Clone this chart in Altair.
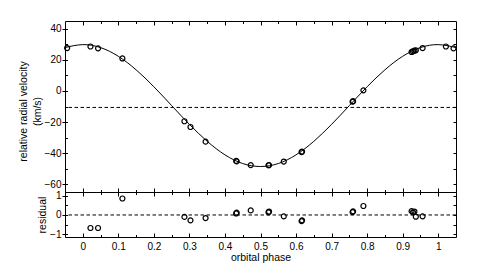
import altair as alt
import pandas as pd

# ---- data ----
phase = [0.0216, 0.0430, 0.1115, 0.2860, 0.3030, 0.3455, 0.4315, 0.4330, 0.4725,
         0.5225, 0.5240, 0.5655, 0.6155, 0.6170, 0.7590, 0.7605, 0.7895,
         0.9250, 0.9290, 0.9330, 0.9370, 0.9560]
velocity = [28.6, 27.4, 20.9, -19.5, -23.2, -32.6, -45.0, -45.3, -47.7,
            -47.8, -47.7, -45.4, -39.3, -39.0, -6.9, -6.6, 0.4,
            25.1, 25.5, 25.9, 26.2, 27.6]
residual = [-0.68, -0.68, 0.86, -0.10, -0.28, -0.16, 0.08, 0.12, 0.24,
            0.14, 0.18, -0.07, -0.32, -0.28, 0.15, 0.19, 0.47,
            0.20, 0.14, 0.18, -0.09, -0.07]

model_phase = [-0.05, 0.00, 0.05, 0.10, 0.15, 0.20, 0.25, 0.30, 0.35, 0.40, 0.45, 0.50,
               0.55, 0.60, 0.65, 0.70, 0.75, 0.80, 0.85, 0.90, 0.95, 1.00, 1.05]
model_velocity = [27.9, 29.8, 27.9, 22.3, 13.6, 2.7, -9.4, -21.5, -32.4, -41.1, -46.7, -48.6,
                  -46.7, -41.1, -32.4, -21.5, -9.4, 2.7, 13.6, 22.3, 27.9, 29.8, 27.9]
gamma = [-10.6]
zero = [0.0]

x_label_values = [0, 0.1, 0.2, 0.3, 0.4, 0.5, 0.6, 0.7, 0.8, 0.9, 1]
x_tick_values = [0, 0.05, 0.1, 0.15, 0.2, 0.25, 0.3, 0.35, 0.4, 0.45, 0.5,
                 0.55, 0.6, 0.65, 0.7, 0.75, 0.8, 0.85, 0.9, 0.95, 1.0]
v_label_values = [-60, -40, -20, 0, 20, 40]
v_tick_values = [-60, -50, -40, -30, -20, -10, 0, 10, 20, 30, 40]
r_label_values = [-1, 0, 1]
r_tick_values = [-1, -0.5, 0, 0.5, 1]

# ---- tables ----
obs = pd.DataFrame({"phase": phase, "velocity": velocity, "residual": residual})
wrap_hi = obs[obs.phase < 0.05].assign(phase=lambda d: d.phase + 1)
wrap_lo = obs[obs.phase > 0.95].assign(phase=lambda d: d.phase - 1)
obs_top = pd.concat([wrap_lo, obs, wrap_hi], ignore_index=True)
model = pd.DataFrame({"phase": model_phase, "velocity": model_velocity})
gamma_df = pd.DataFrame({"velocity": gamma})
zero_df = pd.DataFrame({"residual": zero})

W, HT, HB = 391, 171, 45
FONT = "Liberation Sans"

xscale = alt.Scale(domain=[-0.05, 1.05], nice=False, zero=False)
vscale = alt.Scale(domain=[-65, 45], nice=False, zero=False)
rscale = alt.Scale(domain=[-1.15, 1.2], nice=False, zero=False)

major_minor = {"condition": {"test": "abs(datum.value*10 - round(datum.value*10)) < 0.001",
                             "value": 4}, "value": 2.5}


def tick_axis(orient, offset, values, size):
    return alt.Axis(orient=orient, offset=offset, values=values, labels=False,
                    domain=False, grid=False, title=None, tickSize=size,
                    tickColor="black", tickWidth=1)


pt_kw = dict(shape="circle", filled=False, color="black", size=25, strokeWidth=1.2, opacity=1)

# ---- top panel ----
curve = alt.Chart(model).mark_line(color="black", strokeWidth=1, interpolate="natural").encode(
    x=alt.X("phase:Q", scale=xscale, axis=tick_axis("top", -HT, x_tick_values, major_minor)),
    y=alt.Y("velocity:Q", scale=vscale,
            axis=alt.Axis(orient="left", values=v_label_values, tickSize=3, labelPadding=1,
                          domain=False, grid=False,
                          title=["relative radial velocity", "(km/s)"],
                          titleX=-37, titleY=90, titleLineHeight=14)),
)
grule = alt.Chart(gamma_df).mark_rule(color="black", strokeWidth=1, strokeDash=[3.5, 2.5]).encode(
    y=alt.Y("velocity:Q", scale=vscale, axis=tick_axis("right", -W, v_tick_values, 2.5)),
)
pts_top = alt.Chart(obs_top).mark_point(**pt_kw).encode(
    x=alt.X("phase:Q", scale=xscale, axis=tick_axis("bottom", -HT, x_tick_values, major_minor)),
    y=alt.Y("velocity:Q", scale=vscale, axis=tick_axis("left", -W, v_tick_values, 3)),
)
top = alt.layer(curve, grule, pts_top).resolve_axis(x="independent", y="independent").properties(
    width=W, height=HT)

# ---- residual panel ----
zrule = alt.Chart(zero_df).mark_rule(color="black", strokeWidth=1, strokeDash=[3.5, 2.5]).encode(
    y=alt.Y("residual:Q", scale=rscale,
            axis=alt.Axis(orient="left", values=r_label_values, tickSize=3, labelPadding=1,
                          domain=False, grid=False, title="residual", titleX=-18)),
)
pts_bot = alt.Chart(obs).mark_point(**pt_kw).encode(
    x=alt.X("phase:Q", scale=xscale,
            axis=alt.Axis(orient="bottom", values=x_label_values, format="~g", ticks=False,
                          tickSize=0, domain=False, grid=False, labelPadding=4,
                          title="orbital phase", titlePadding=1)),
    y=alt.Y("residual:Q", scale=rscale, axis=tick_axis("left", -W, r_tick_values, 3)),
)
ghost1 = alt.Chart(obs).mark_point(opacity=0).encode(
    x=alt.X("phase:Q", scale=xscale, axis=tick_axis("top", -HB, x_tick_values, major_minor)),
    y=alt.Y("residual:Q", scale=rscale, axis=tick_axis("right", -W, r_tick_values, 2.5)),
)
ghost2 = alt.Chart(obs).mark_point(opacity=0).encode(
    x=alt.X("phase:Q", scale=xscale, axis=tick_axis("bottom", -HB, x_tick_values, major_minor)),
    y=alt.Y("residual:Q", scale=rscale, axis=None),
)
bottom = alt.layer(zrule, pts_bot, ghost1, ghost2).resolve_axis(
    x="independent", y="independent").properties(width=W, height=HB)

chart = alt.vconcat(top, bottom, spacing=0, bounds="flush").resolve_scale(
    x="independent", y="independent").properties(
    padding={"left": 9, "top": 12, "right": 5, "bottom": 2},
    background="white",
).configure_view(stroke="black", strokeWidth=1).configure_axis(
    labelFont=FONT, labelFontSize=10, labelColor="black",
    titleFont=FONT, titleFontSize=10.5, titleFontWeight="normal", titleColor="black",
    tickColor="black",
)

chart.save("out.html", embed_options={"renderer": "svg", "actions": False})
